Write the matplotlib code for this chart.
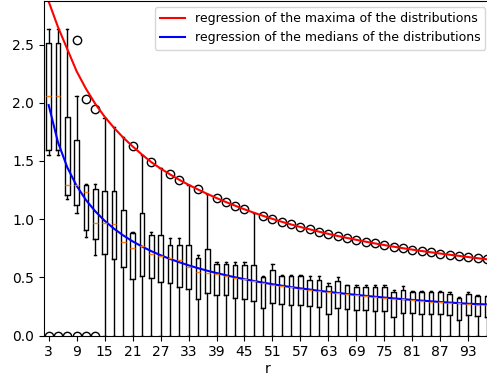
import numpy as np
import matplotlib
matplotlib.use('Agg')
import matplotlib.pyplot as plt

# one box per r (odd values), stats
r = list(range(3, 98, 2))

whislo = [1.55, 1.55, 1.17, 1.05, 0.85, 0.69] + [0.0] * 42
q1 = [1.59, 1.59, 1.21, 1.12, 0.905, 0.83,
      0.70, 0.655, 0.586, 0.485,
      0.515, 0.49, 0.46, 0.448, 0.42, 0.397, 0.31, 0.368, 0.348, 0.348,
      0.32, 0.31, 0.296, 0.234, 0.282, 0.272, 0.264, 0.258, 0.25, 0.248,
      0.188, 0.234, 0.225, 0.222, 0.215, 0.21, 0.207, 0.156, 0.194, 0.19,
      0.188, 0.186, 0.185, 0.178, 0.133, 0.175, 0.165, 0.163]
med = [2.06, 2.06, 1.29, 1.29, 1.235, 0.97,
       0.965, 0.955, 0.806, 0.755,
       0.772, 0.70, 0.685, 0.663, 0.645, 0.59, 0.545, 0.535, 0.525, 0.515,
       0.497, 0.485, 0.47, 0.45, 0.435, 0.425, 0.415, 0.403, 0.393, 0.385,
       0.373, 0.365, 0.356, 0.348, 0.34, 0.332, 0.325, 0.317, 0.31, 0.305,
       0.298, 0.292, 0.286, 0.281, 0.276, 0.27, 0.266, 0.262]
q3 = [2.51, 2.51, 1.88, 1.68, 1.29, 1.256,
      1.244, 1.244, 1.078, 0.878,
      1.05, 0.862, 0.863, 0.777, 0.777, 0.777, 0.663, 0.74, 0.614, 0.614,
      0.606, 0.606, 0.606, 0.50, 0.563, 0.514, 0.514, 0.51, 0.477, 0.477,
      0.423, 0.47, 0.435, 0.416, 0.416, 0.418, 0.416, 0.37, 0.395, 0.376,
      0.376, 0.376, 0.376, 0.358, 0.322, 0.358, 0.338, 0.338]
whishi = [2.63, 2.63, 2.63, 2.06, 1.30, 1.30,
          1.87, 1.79, 1.708, 0.887,
          1.555, 0.89, 1.435, 0.835, 0.835, 1.295, 0.69, 1.217, 0.634, 0.634,
          0.634, 0.634, 1.055, 0.511, 0.612, 0.517, 0.517, 0.517, 0.514, 0.514,
          0.448, 0.50, 0.437, 0.434, 0.438, 0.434, 0.437, 0.395, 0.427, 0.38,
          0.385, 0.38, 0.385, 0.375, 0.335, 0.378, 0.345, 0.34]
fliers = [[0], [0], [0], [0, 2.54], [0, 2.03], [0, 1.95],
          [], [], [], [1.625],
          [], [1.49], [], [1.385], [1.338], [], [1.255], [], [1.181], [1.147],
          [1.115], [1.084], [], [1.028], [1.002], [0.977], [0.954], [0.932], [0.912], [0.892],
          [0.873], [0.855], [0.838], [0.822], [0.806], [0.791], [0.777], [0.763], [0.75], [0.738],
          [0.726], [0.715], [0.704], [0.694], [0.684], [0.674], [0.664], [0.655]]

# regression curves
max_reg = [2.87, 2.65, 2.46, 2.27, 2.12, 1.99, 1.88, 1.785, 1.70, 1.625,
           1.555, 1.49, 1.435, 1.385, 1.338, 1.295, 1.255, 1.217, 1.181, 1.147,
           1.115, 1.084, 1.055, 1.028, 1.002, 0.977, 0.954, 0.932, 0.912, 0.892,
           0.873, 0.855, 0.838, 0.822, 0.806, 0.791, 0.777, 0.763, 0.75, 0.738,
           0.726, 0.715, 0.704, 0.694, 0.684, 0.674, 0.664, 0.655]
med_reg = [1.98, 1.66, 1.444, 1.286, 1.164, 1.067, 0.986, 0.918, 0.86, 0.809,
           0.765, 0.725, 0.69, 0.658, 0.63, 0.603, 0.579, 0.557, 0.537, 0.518,
           0.50, 0.484, 0.469, 0.454, 0.441, 0.428, 0.416, 0.405, 0.395, 0.384,
           0.375, 0.366, 0.357, 0.349, 0.341, 0.333, 0.326, 0.319, 0.312, 0.306,
           0.30, 0.294, 0.288, 0.283, 0.278, 0.273, 0.27, 0.267]

stats = []
for i in range(len(r)):
    stats.append({'whislo': whislo[i], 'q1': q1[i], 'med': med[i],
                  'q3': q3[i], 'whishi': whishi[i], 'fliers': fliers[i]})

fig = plt.figure(figsize=(4.87, 3.79), dpi=100)
ax = fig.add_axes([44/487, 43.5/379, 447.6/487, 334.5/379])

ax.bxp(stats, positions=r, widths=1.0, manage_ticks=False)
ax.plot(r, max_reg, color='red', label='regression of the maxima of the distributions')
ax.plot(r, med_reg, color='blue', label='regression of the medians of the distributions')

ax.set_xlim(2, 98)
ax.set_ylim(0, 2.874)
ax.set_xticks(list(range(3, 98, 6)))
ax.set_xlabel('r', labelpad=2)
ax.legend(loc='upper right', fontsize=9)

fig.savefig('out.png', dpi=100)
